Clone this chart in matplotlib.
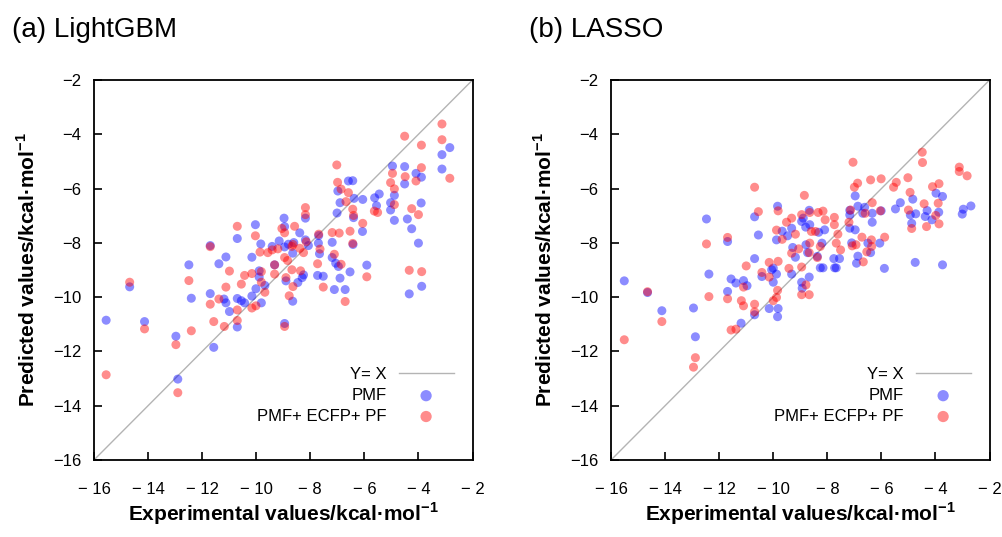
import matplotlib
matplotlib.use('Agg')
import matplotlib.pyplot as plt

plt.rcParams['font.family'] = ['Liberation Sans', 'DejaVu Sans']
plt.rcParams['mathtext.fontset'] = 'custom'
plt.rcParams['mathtext.rm'] = 'Liberation Sans'
plt.rcParams['mathtext.bf'] = 'Liberation Sans:bold'

# ─── Data ────────────────────────────────────────────────────────────────────
# (a) LightGBM, PMF
lgb_pmf_x = [-15.55, -14.68, -14.13, -12.97, -12.90, -12.49, -12.40, -11.70, -11.70, -11.57,
             -11.38, -11.12, -11.19, -11.12, -10.99, -10.70, -10.70, -10.55, -10.43, -10.70,
             -10.16, -10.03, -10.16, -10.01, -9.89, -9.89, -9.81, -9.68, -9.41, -9.32,
             -9.15, -8.97, -8.95, -8.90, -8.95, -8.81, -8.65, -8.61, -8.65, -8.39,
             -8.46, -8.30, -8.18, -8.18, -8.07, -8.25, -7.70, -7.66, -7.73, -7.52,
             -7.19, -7.19, -7.06, -6.96, -6.90, -7.11, -6.71, -6.53, -7.01, -6.98,
             -6.90, -6.59, -6.43, -6.38, -6.42, -6.06, -6.07, -5.91, -5.62, -5.45,
             -5.55, -5.03, -5.03, -4.89, -4.89, -4.96, -4.51, -4.51, -4.41, -4.25,
             -4.09, -3.89, -3.90, -4.00, -3.88, -4.34, -3.13, -2.84, -3.13, -6.40,
             -9.83, -7.69, -8.95]
lgb_pmf_y = [-10.85, -9.62, -10.90, -11.44, -13.02, -8.81, -10.04, -8.10, -9.87, -11.85,
             -8.77, -8.52, -10.07, -10.21, -10.53, -7.84, -10.05, -10.13, -10.21, -11.10,
             -9.96, -7.33, -8.53, -9.69, -9.26, -9.03, -10.21, -9.57, -8.13, -8.81,
             -7.93, -7.09, -8.15, -9.40, -10.97, -8.05, -10.15, -7.99, -8.38, -7.63,
             -9.46, -9.28, -7.09, -7.89, -8.10, -9.18, -8.01, -8.40, -9.20, -9.23,
             -7.98, -8.54, -8.75, -8.87, -9.30, -9.72, -9.72, -9.07, -6.90, -6.09,
             -6.52, -5.72, -5.71, -6.36, -8.06, -6.40, -7.58, -8.82, -6.34, -6.20,
             -6.63, -6.52, -6.79, -6.25, -7.17, -5.17, -5.19, -5.83, -7.12, -7.48,
             -5.44, -5.58, -6.53, -8.01, -9.60, -9.88, -4.75, -4.49, -5.28, -7.07,
             -8.04, -7.73, -7.40]

# (a) LightGBM, PMF + ECFP + PF
lgb_all_x = [-15.55, -14.68, -14.13, -12.97, -12.90, -12.49, -12.40, -11.70, -11.70, -11.57,
             -11.38, -11.18, -11.12, -10.99, -10.70, -10.70, -10.70, -10.55, -10.43, -10.16,
             -10.16, -10.03, -10.01, -9.86, -9.81, -9.81, -9.68, -9.57, -9.41, -9.32,
             -9.32, -9.20, -9.05, -8.95, -8.95, -8.95, -8.84, -8.90, -8.78, -8.68,
             -8.68, -8.64, -8.58, -8.39, -8.36, -8.25, -8.18, -8.18, -8.15, -7.69,
             -7.73, -7.52, -7.64, -7.19, -7.11, -7.02, -6.99, -6.86, -6.93, -6.86,
             -6.71, -6.59, -6.68, -6.43, -6.53, -6.43, -6.06, -5.91, -5.63, -5.51,
             -5.03, -4.96, -4.89, -4.89, -4.51, -4.49, -4.25, -4.09, -4.00, -3.89,
             -3.89, -4.34, -3.88, -3.13, -3.13, -2.84, -6.40, -8.64]
lgb_all_y = [-12.86, -9.45, -11.17, -11.75, -13.52, -9.39, -11.24, -10.26, -8.14, -10.90,
             -10.07, -11.08, -9.63, -9.04, -7.39, -10.86, -10.47, -9.52, -9.20, -9.13,
             -10.40, -7.74, -10.32, -8.34, -9.06, -9.45, -9.82, -8.36, -8.26, -8.81,
             -9.15, -8.22, -7.47, -7.63, -11.08, -8.54, -8.65, -9.28, -9.95, -8.13,
             -8.99, -9.61, -7.39, -8.20, -9.03, -8.36, -6.70, -6.96, -7.96, -7.68,
             -8.77, -9.63, -8.23, -7.62, -8.42, -5.13, -5.77, -6.02, -7.64, -8.79,
             -10.16, -6.15, -6.48, -6.76, -7.57, -8.02, -7.28, -9.25, -6.83, -6.88,
             -5.78, -5.44, -6.01, -6.59, -4.07, -5.56, -6.74, -5.72, -6.96, -5.23,
             -4.40, -9.01, -9.06, -3.62, -4.20, -5.62, -6.99, -8.06]

# (b) LASSO, PMF
las_pmf_x = [-15.51, -14.65, -14.12, -12.95, -12.88, -12.47, -12.38, -11.69, -11.69, -11.56,
             -11.38, -11.19, -11.10, -10.97, -10.69, -10.69, -10.69, -10.55, -10.42, -10.15,
             -10.06, -10.00, -9.88, -9.84, -9.88, -9.82, -9.84, -9.67, -9.47, -9.32,
             -9.28, -9.18, -9.32, -8.95, -8.89, -8.95, -8.93, -8.80, -8.67, -8.65,
             -8.67, -8.79, -8.73, -8.37, -8.32, -8.26, -8.16, -8.10, -8.20, -7.76,
             -7.55, -7.73, -7.67, -7.17, -7.17, -7.10, -6.97, -6.97, -6.92, -6.87,
             -6.87, -6.69, -6.62, -6.50, -6.40, -6.34, -6.34, -6.06, -6.01, -5.89,
             -5.48, -5.30, -4.93, -4.84, -4.88, -4.75, -4.73, -4.38, -4.31, -4.13,
             -3.98, -3.88, -3.74, -3.74, -3.01, -2.97, -2.69, -10.00, -7.17]
las_pmf_y = [-9.40, -9.83, -10.50, -10.40, -11.46, -7.12, -9.15, -7.95, -9.79, -9.33,
             -9.48, -10.96, -9.39, -9.58, -7.04, -8.58, -10.65, -7.71, -9.24, -10.42,
             -8.99, -9.45, -9.15, -6.65, -7.89, -10.42, -10.72, -7.57, -7.74, -9.15,
             -8.17, -8.53, -7.46, -7.21, -7.09, -9.45, -9.67, -7.42, -6.80, -7.33,
             -9.26, -8.07, -8.36, -8.50, -7.61, -8.92, -8.92, -7.52, -8.01, -8.58,
             -8.58, -8.92, -8.92, -6.97, -7.46, -8.00, -7.52, -6.27, -8.75, -8.49,
             -6.65, -6.91, -6.69, -8.01, -8.36, -7.24, -6.91, -8.01, -6.82, -8.94,
             -6.75, -6.52, -6.97, -6.39, -7.28, -8.72, -6.93, -7.03, -6.81, -7.15,
             -6.17, -6.87, -6.29, -8.81, -6.94, -6.76, -6.64, -8.93, -6.80]

# (b) LASSO, PMF + ECFP + PF
las_all_x = [-15.51, -14.65, -14.12, -12.95, -12.88, -12.47, -12.38, -11.69, -11.69, -11.56,
             -11.38, -11.18, -11.10, -11.10, -11.00, -10.69, -10.69, -10.69, -10.55, -10.42,
             -10.15, -10.15, -10.00, -9.88, -9.84, -9.82, -9.88, -9.82, -9.67, -9.51,
             -9.32, -9.42, -9.32, -9.18, -9.06, -8.95, -8.95, -8.95, -8.85, -8.79,
             -8.67, -8.65, -8.65, -8.67, -8.59, -8.44, -8.34, -8.16, -8.26, -8.37,
             -8.08, -7.74, -7.74, -7.67, -7.61, -7.51, -7.20, -7.14, -7.08, -7.05,
             -7.00, -6.88, -6.94, -6.72, -6.67, -6.60, -6.54, -6.40, -6.37, -6.36,
             -6.34, -6.04, -6.01, -5.88, -5.55, -5.45, -5.02, -5.00, -4.94, -4.88,
             -4.49, -4.48, -4.42, -4.33, -4.11, -3.99, -3.90, -3.87, -3.87, -3.12,
             -3.12, -2.83]
las_all_y = [-11.57, -9.80, -10.90, -12.58, -12.23, -8.04, -9.98, -7.80, -10.06, -11.21,
             -11.18, -10.13, -10.32, -9.63, -8.85, -5.95, -10.26, -10.54, -6.85, -9.09,
             -8.72, -9.26, -10.13, -10.01, -9.75, -8.68, -7.53, -6.82, -7.87, -7.24,
             -7.09, -8.94, -8.38, -7.68, -8.22, -8.89, -6.96, -9.91, -6.25, -9.55,
             -9.91, -8.01, -6.88, -8.36, -7.58, -7.58, -6.88, -6.83, -8.13, -8.54,
             -7.15, -7.06, -7.33, -8.01, -7.68, -8.26, -7.24, -6.79, -8.11, -5.03,
             -5.95, -5.80, -8.07, -7.79, -8.70, -6.91, -8.33, -5.68, -7.89, -8.13,
             -6.52, -6.82, -5.64, -7.79, -5.95, -5.77, -5.60, -6.79, -6.14, -7.47,
             -4.66, -5.04, -6.56, -7.40, -5.93, -6.99, -6.54, -5.82, -7.30, -5.21,
             -5.37, -5.53]

titles = ['(a) LightGBM', '(b) LASSO']
series_labels = ['PMF', 'PMF+ ECFP+ PF']
tick_vals = [-16, -14, -12, -10, -8, -6, -4, -2]
xtick_labels = ['\u2212 16', '\u2212 14', '\u2212 12', '\u2212 10', '\u2212 8', '\u2212 6', '\u2212 4', '\u2212 2']
ytick_labels = ['\u221216', '\u221214', '\u221212', '\u221210', '\u22128', '\u22126', '\u22124', '\u22122']

C_PMF = '#0000ff'
C_ALL = '#ff0000'
C_DIAG = '#b4b4b4'

fig = plt.figure(figsize=(10.03, 5.37), dpi=100)
fig.patch.set_facecolor('white')

panels = [
    (0.0937, titles[0], lgb_pmf_x, lgb_pmf_y, lgb_all_x, lgb_all_y),
    (0.6092, titles[1], las_pmf_x, las_pmf_y, las_all_x, las_all_y),
]

for left, title, px, py, ax_, ay_ in panels:
    ax = fig.add_axes([left, 0.1434, 0.3774, 0.7076])
    ax.set_xlim(-16, -2)
    ax.set_ylim(-16, -2)

    ax.plot([-16, -2], [-16, -2], color=C_DIAG, lw=1.0, zorder=1, label='Y= X')
    ax.scatter(px, py, s=42, color=C_PMF, alpha=0.45, edgecolors='none', zorder=2,
               label=series_labels[0])
    ax.scatter(ax_, ay_, s=42, color=C_ALL, alpha=0.45, edgecolors='none', zorder=3,
               label=series_labels[1])

    ax.set_xticks(tick_vals)
    ax.set_xticklabels(xtick_labels)
    ax.set_yticks(tick_vals)
    ax.set_yticklabels(ytick_labels)
    ax.tick_params(axis='both', direction='in', length=6, width=1.2,
                   labelsize=12, colors='black', top=False, right=False)
    ax.tick_params(axis='x', pad=16)
    ax.tick_params(axis='y', pad=9)
    for sp in ax.spines.values():
        sp.set_linewidth(1.3)
        sp.set_color('black')

    leg = ax.legend(loc='lower right', bbox_to_anchor=(0.95, 0.095),
                    frameon=False, fontsize=12, markerfirst=False,
                    handlelength=3.3, handletextpad=0.7, labelspacing=0.35,
                    borderpad=0, borderaxespad=0, markerscale=1.25)

    # panel title
    fig.text(left - 0.0817, 0.945, title, fontsize=20, ha='left', va='center')
    # axis labels
    cx = left + 0.3774 / 2
    fig.text(cx, 0.019, 'Experimental values/kcal\u00b7mol$^{\\mathbf{-1}}$',
             fontsize=15, fontweight='bold', ha='center', va='bottom')
    fig.text(left - 0.066, 0.1434 + 0.7076 / 2,
             'Predicted values/kcal\u00b7mol$^{\\mathbf{-1}}$',
             fontsize=15, fontweight='bold', ha='center', va='center', rotation=90)

plt.savefig('out.png', dpi=100, facecolor='white')
